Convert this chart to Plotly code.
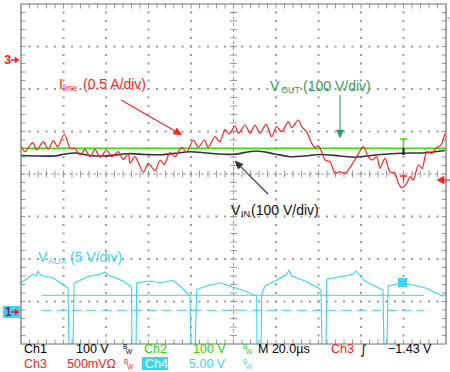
import math
import plotly.graph_objects as go

# ---------------- data (time in µs, vertical position in screen divisions) ----------------
t_iline = [0, 1.9, 5.5, 7.4, 10.5, 12.8, 15.2, 17.3, 20.4, 23.1, 25.4, 27.8, 30.1, 32.5, 34.8,
           37.2, 40.3, 42.7, 45.8, 48.1, 50.5, 51.3, 53.6, 57.6, 59.9, 63.1, 65.4, 67.4, 70.1,
           72.5, 75.6, 78.0, 81.1, 83.4, 86.3, 88.1, 91.3, 93.6, 96.0, 97.9, 100.7, 102.3, 105.4,
           107.8, 110.1, 112.5, 115.3, 118.0, 120.3, 122.7, 125.8, 127.4, 130.5, 132.1, 134.4,
           136.8, 138.4, 139.9, 141.5, 143.1, 145.4, 147.8, 150.1, 152.5, 155.6, 158.0, 161.1,
           163.4, 165.3, 167.4, 168.9, 171.3, 173.6, 176.0, 177.6, 179.2, 181.5, 183.1, 184.6,
           187.0, 188.8, 190.9, 193.3, 195.6, 197.6, 199.5]
d_iline = [0.66, 0.525, 0.736, 0.565, 0.760, 0.581, 0.784, 0.642, 0.941, 0.605, 0.605, 0.447,
           0.581, 0.407, 0.581, 0.393, 0.565, 0.407, 0.525, 0.346, 0.471, 0.252, 0.407, 0.040,
           0.252, 0.078, 0.329, 0.228, 0.501, 0.407, 0.628, 0.525, 0.800, 0.628, 0.800, 0.628,
           0.878, 0.760, 1.052, 0.941, 1.129, 0.958, 1.153, 0.958, 1.153, 0.958, 1.169, 0.878,
           1.113, 0.995, 1.231, 1.089, 1.271, 1.113, 0.995, 0.722, 0.619, 0.666, 0.525, 0.329,
           0.289, 0.016, 0.054, 0.016, 0.212, 0.407, 0.642, 0.407, 0.329, 0.407, 0.134, 0.369,
           0.054, 0.016, -0.219, -0.322, -0.219, -0.064, -0.141, 0.212, 0.134, 0.525, 0.487,
           0.619, 0.682, 0.958]

t_vin = [0, 8.9, 16.0, 20.7, 25.4, 32.5, 39.5, 50.4, 58.4, 66.4, 72.5, 79.5, 88.9, 99.8, 110.6,
         119.5, 126.6, 133.6, 140.7, 150.1, 157.2, 166.6, 178.4, 190.1, 199.5]
d_vin = [0.435, 0.424, 0.424, 0.471, 0.494, 0.435, 0.424, 0.478, 0.459, 0.454, 0.487, 0.525,
         0.487, 0.464, 0.541, 0.471, 0.407, 0.424, 0.459, 0.424, 0.395, 0.447, 0.487, 0.501, 0.553]

t_vout = [0, 50, 100, 150, 200]
d_vout = [0.605, 0.605, 0.605, 0.605, 0.605]

t_vaux = [0, 5.65, 7.06, 8.0, 9.41, 11.29, 15.06, 18.35, 20.71, 22.12, 22.59, 24.47, 24.94, 25.41,
          31.06, 37.18, 39.53, 40.94, 43.29, 48.0, 51.29, 52.0, 52.24, 54.12, 54.45, 60.71, 65.41,
          71.53, 74.82, 78.59, 79.53, 80.0, 81.88, 82.68, 87.39, 93.65, 96.0, 105.41, 110.92,
          111.06, 112.94, 113.27, 114.82, 119.53, 125.04, 126.12, 127.39, 133.65, 139.76, 141.18,
          141.65, 143.53, 143.86, 147.76, 156.24, 157.65, 161.88, 168.0, 170.35, 170.82, 172.24,
          172.71, 179.29, 190.12, 198.59, 200]
d_vaux = [-2.558, -2.360, -2.400, -2.282, -2.388, -2.400, -2.440, -2.558, -2.635, -2.682, -4.14,
          -4.14, -2.588, -2.558, -2.416, -2.360, -2.306, -2.376, -2.416, -2.518, -2.635, -2.682,
          -4.14, -4.14, -2.558, -2.518, -2.558, -2.501, -2.635, -2.831, -2.871, -4.14, -4.14,
          -2.713, -2.635, -2.558, -2.595, -2.753, -2.871, -4.14, -4.14, -2.831, -2.635, -2.518,
          -2.360, -2.259, -2.400, -2.518, -2.675, -2.729, -4.14, -4.14, -2.478, -2.440, -2.360,
          -2.282, -2.518, -2.675, -2.729, -4.14, -4.14, -2.635, -2.558, -2.675, -2.871, -2.824]

aux_cursor_t = [9.74, 189.6]
aux_cursor_solid = -2.854
aux_cursor_dash = -3.207

# ---------------- geometry / styles ----------------
W, H = 450, 372
PX0, PX1, PY0, PY1 = 21, 446, 4, 344
FONT = "Liberation Sans, Arial, sans-serif"
RED = "#ff2020"
GREEN = "#33e000"
DKGREEN = "#339966"
CYAN = "#3cd3ef"
BLACK = "#333333"
GRID = "#9a9a9a"


def px(x):
    return x / W


def py(y):
    return 1 - y / H


fig = go.Figure()

# ---- graticule dots ----
gx, gy = [], []
for k in range(1, 10):
    if k == 5:
        continue
    for j in range(1, 40):
        gx.append(k * 20)
        gy.append(-4 + j * 0.2)
for k in range(-3, 4):
    if k == 0:
        continue
    for j in range(1, 50):
        gx.append(j * 4)
        gy.append(k)
fig.add_trace(go.Scatter(x=gx, y=gy, mode="markers",
                         marker=dict(symbol="square", size=2, color=GRID, line=dict(width=0)),
                         hoverinfo="skip", showlegend=False))

# center-line ticks
cx = [j * 4 for j in range(1, 50)]
fig.add_trace(go.Scatter(x=cx, y=[0] * len(cx), mode="markers",
                         marker=dict(symbol="line-ns", size=5, line=dict(width=1, color=GRID)),
                         hoverinfo="skip", showlegend=False))
cy = [-4 + j * 0.2 for j in range(1, 40)]
fig.add_trace(go.Scatter(x=[100] * len(cy), y=cy, mode="markers",
                         marker=dict(symbol="line-ew", size=5, line=dict(width=1, color=GRID)),
                         hoverinfo="skip", showlegend=False))
# border ticks
fig.add_trace(go.Scatter(x=cx + cx, y=[3.96] * len(cx) + [-3.96] * len(cx), mode="markers",
                         marker=dict(symbol="line-ns", size=4, line=dict(width=1, color=GRID)),
                         hoverinfo="skip", showlegend=False))
fig.add_trace(go.Scatter(x=[0.8] * len(cy) + [199.2] * len(cy), y=cy + cy, mode="markers",
                         marker=dict(symbol="line-ew", size=4, line=dict(width=1, color=GRID)),
                         hoverinfo="skip", showlegend=False))

# ---- aux cursors ----
fig.add_trace(go.Scatter(x=aux_cursor_t, y=[aux_cursor_solid] * 2, mode="lines",
                         line=dict(color=CYAN, width=1), hoverinfo="skip", showlegend=False))
fig.add_trace(go.Scatter(x=aux_cursor_t, y=[aux_cursor_dash] * 2, mode="lines",
                         line=dict(color=CYAN, width=1, dash="10px,5px"), hoverinfo="skip",
                         showlegend=False))

# ---- channels ----
fig.add_trace(go.Scatter(x=t_vaux, y=d_vaux, mode="lines", name="V_AUX",
                         line=dict(color=CYAN, width=1.1), showlegend=False))
fig.add_trace(go.Scatter(x=t_vin, y=d_vin, mode="lines", name="V_IN",
                         line=dict(color=BLACK, width=1.6, shape="spline"), showlegend=False))
fig.add_trace(go.Scatter(x=t_vout, y=d_vout, mode="lines", name="V_OUT",
                         line=dict(color=GREEN, width=1.6), showlegend=False))
fig.add_trace(go.Scatter(x=t_iline, y=d_iline, mode="lines", name="I_line",
                         line=dict(color=RED, width=1.2, shape="spline", smoothing=0.8),
                         showlegend=False))

shapes = []
# center cross lines (dotted)
shapes.append(dict(type="line", xref="x", yref="y", x0=0, x1=200, y0=0, y1=0,
                   line=dict(color=GRID, width=1, dash="dot"), layer="below"))
shapes.append(dict(type="line", xref="x", yref="y", x0=100, x1=100, y0=-4, y1=4,
                   line=dict(color=GRID, width=1, dash="dot"), layer="below"))
# frame
shapes.append(dict(type="rect", xref="paper", yref="paper", x0=px(PX0), x1=px(PX1),
                   y0=py(PY1), y1=py(PY0), line=dict(color="#707070", width=1.2)))


def seg(x0, y0, x1, y1, color, width=1.2):
    shapes.append(dict(type="line", xref="paper", yref="paper", x0=px(x0), y0=py(y0),
                       x1=px(x1), y1=py(y1), line=dict(color=color, width=width)))


def poly(pts, color):
    path = "M " + " L ".join(f"{px(a):.5f},{py(b):.5f}" for a, b in pts) + " Z"
    shapes.append(dict(type="path", xref="paper", yref="paper", path=path,
                       fillcolor=color, line=dict(color=color, width=0.5)))


def arrow(hx, hy, tx, ty, color, hl=8, hw=3.5):
    L = math.hypot(hx - tx, hy - ty)
    ux, uy = (hx - tx) / L, (hy - ty) / L
    bx, by = hx - ux * hl, hy - uy * hl
    seg(tx, ty, bx, by, color, 1.1)
    poly([(hx, hy), (bx - uy * hw, by + ux * hw), (bx + uy * hw, by - ux * hw)], color)


# ch3 ground marker "3->"
seg(11, 60, 16, 60, RED, 1.5)
poly([(15, 57), (19, 60), (15, 63)], RED)
# ch1/ch4 marker box
shapes.append(dict(type="rect", xref="paper", yref="paper", x0=px(3), x1=px(20),
                   y0=py(318), y1=py(306), fillcolor=CYAN, line=dict(width=0)))
seg(11, 312, 16, 312, "#e0202a", 1.5)
poly([(15, 309), (19, 312), (15, 315)], "#e0202a")
# trigger level arrow at right
poly([(437, 180), (444, 176), (444, 184)], RED)
seg(443, 180, 450, 180, RED, 1.2)
# small cyan tick top right
seg(447, 18, 450, 18, CYAN, 1.2)
# per-channel markers near 403 px
seg(400, 139, 407, 139, GREEN, 1.5)
seg(403.5, 139, 403.5, 148, GREEN, 1.5)
seg(403.5, 148, 403.5, 155, "#111111", 2)
seg(400, 176, 407, 176, RED, 1.5)
seg(403.5, 176, 403.5, 181, RED, 1.5)
shapes.append(dict(type="rect", xref="paper", yref="paper", x0=px(398), x1=px(407),
                   y0=py(287), y1=py(278), fillcolor=CYAN, line=dict(width=0)))
# Ch4 label box
shapes.append(dict(type="rect", xref="paper", yref="paper", x0=px(142), x1=px(168),
                   y0=py(370), y1=py(357), fillcolor=CYAN, line=dict(width=0)))

# pointer arrows
arrow(182, 135, 121, 100, RED)
arrow(340, 138, 340, 95, DKGREEN)
arrow(235, 161, 268, 194, BLACK)

ann = []


def txt(x, y, s, color, size=14, family=FONT, anchor="left"):
    ann.append(dict(xref="paper", yref="paper", x=px(x), y=py(y), text=s, showarrow=False,
                    xanchor=anchor, yanchor="middle", borderpad=0,
                    font=dict(family=family, size=size, color=color)))


# channel labels (main letter, subscript, scale)
txt(58, 84, "I", RED)
txt(62, 88, "line", RED, size=9)
txt(82, 84, "(0.5 A/div)", RED)

txt(269, 86, "V", DKGREEN)
txt(280, 90, "OUT", DKGREEN, size=9)
txt(302, 86, "(100 V/div)", DKGREEN)

txt(230, 210, "V", "#111111")
txt(240, 214, "IN", "#111111", size=9)
txt(250, 210, "(100 V/div)", "#111111")

txt(37, 257, "V", CYAN)
txt(47, 261, "AUX", CYAN, size=9)
txt(69, 257, "(5 V/div)", CYAN)

# left markers
txt(3, 60, "<b>3</b>", RED, size=13)
txt(4, 312, "<b>1</b>", "#6a2a6a", size=12)

# status line
R1, R2 = 349, 364
SF = 12.5
txt(23, R1, "Ch1", "#000000", SF)
txt(75, R1, "100 V", "#000000", SF)
txt(122, R1 - 3, "B", "#000000", size=6.5)
txt(125, R1 + 2, "W", "#000000", size=6.5)
txt(143, R1, "Ch2", "#2ed000", SF)
txt(192, R1, "100 V", "#2ed000", SF)
txt(242, R1 - 3, "B", "#2ed000", size=6.5)
txt(245, R1 + 2, "W", "#2ed000", size=6.5)
txt(257, R1, "M 20.0µs", "#000000", SF)
txt(330, R1, "Ch3", RED, SF)
txt(359, R1, "∫", "#000000", size=13, family="DejaVu Sans")
txt(387, R1, "−1.43 V", "#000000", SF)

txt(23, R2, "Ch3", RED, SF)
txt(66, R2, "500mVΩ", RED, SF)
txt(123, R2 - 3, "B", RED, size=6.5)
txt(126, R2 + 2, "W", RED, size=6.5)
txt(144, R2, "Ch4", "#ffffff", SF)
txt(188, R2, "5.00 V", CYAN, SF)
txt(242, R2 - 3, "B", CYAN, size=6.5)
txt(245, R2 + 2, "W", CYAN, size=6.5)

fig.update_layout(
    width=W, height=H, margin=dict(l=0, r=0, t=0, b=0),
    paper_bgcolor="white", plot_bgcolor="white",
    xaxis=dict(domain=[px(PX0), px(PX1)], range=[0, 200], visible=False, fixedrange=True),
    yaxis=dict(domain=[py(PY1), py(PY0)], range=[-4, 4], visible=False, fixedrange=True),
    shapes=shapes, annotations=ann, showlegend=False,
)

fig.write_html("out.html", config={"displayModeBar": False},
               post_script="document.body.style.margin='0';document.body.style.overflow='hidden';")
